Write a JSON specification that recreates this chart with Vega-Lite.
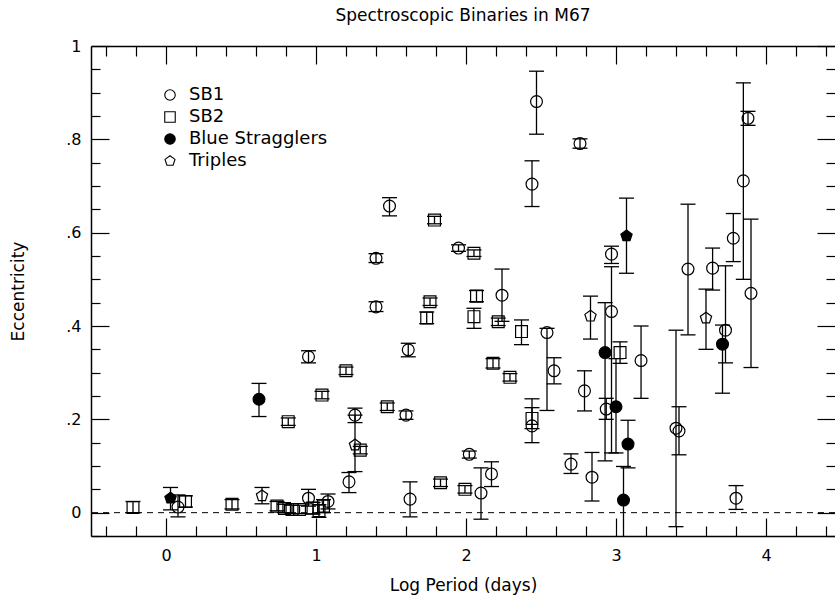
{
  "$schema": "https://vega.github.io/schema/vega-lite/v6.json",
  "width": 744,
  "height": 490,
  "autosize": "none",
  "padding": {"left": 91, "top": 46, "right": 0, "bottom": 66},
  "background": "white",
  "title": {"text": "Spectroscopic Binaries in M67", "font": "DejaVu Sans", "fontSize": 17, "fontWeight": "normal", "color": "black", "offset": 13},
  "config": {
    "view": {"stroke": null},
    "axis": {"grid": false, "domainColor": "black", "domainWidth": 1.5, "tickColor": "black", "tickWidth": 1.2, "labelColor": "black", "titleColor": "black", "labelFont": "DejaVu Sans", "titleFont": "DejaVu Sans", "titleFontWeight": "normal", "labelFontSize": 16, "titleFontSize": 17, "labelFlush": false, "labelOverlap": false},
    "legend": {"orient": "none", "legendX": 70, "legendY": 40, "title": null, "labelFont": "DejaVu Sans", "labelFontSize": 18, "labelColor": "black", "labelLimit": 0, "symbolSize": 110, "symbolStrokeWidth": 1.1, "rowPadding": 4, "labelOffset": 10, "padding": 0}
  },
  "data": {"values": [
    {"p":-0.22,"e":0.011,"lo":0.0,"hi":0.024,"t":"SB2"},
    {"p":0.03,"e":0.031,"lo":0.006,"hi":0.054,"t":"BS Triple"},
    {"p":0.08,"e":0.012,"lo":-0.009,"hi":0.038,"t":"SB1"},
    {"p":0.13,"e":0.024,"lo":0.012,"hi":0.036,"t":"SB2"},
    {"p":0.44,"e":0.018,"lo":0.008,"hi":0.028,"t":"SB2"},
    {"p":0.62,"e":0.243,"lo":0.206,"hi":0.277,"t":"Blue Stragglers"},
    {"p":0.64,"e":0.036,"lo":0.019,"hi":0.054,"t":"Triples"},
    {"p":0.74,"e":0.014,"lo":0.004,"hi":0.024,"t":"SB2"},
    {"p":0.79,"e":0.009,"lo":0.0,"hi":0.018,"t":"SB2"},
    {"p":0.84,"e":0.007,"lo":-0.002,"hi":0.016,"t":"SB2"},
    {"p":0.89,"e":0.007,"lo":-0.002,"hi":0.016,"t":"SB2"},
    {"p":0.95,"e":0.031,"lo":0.014,"hi":0.05,"t":"SB1"},
    {"p":0.98,"e":0.01,"lo":-0.003,"hi":0.022,"t":"SB2"},
    {"p":1.02,"e":0.004,"lo":-0.01,"hi":0.017,"t":"SB2"},
    {"p":1.05,"e":0.014,"lo":0.0,"hi":0.028,"t":"SB2"},
    {"p":1.08,"e":0.024,"lo":0.008,"hi":0.04,"t":"SB1"},
    {"p":0.815,"e":0.195,"lo":0.187,"hi":0.203,"t":"SB2"},
    {"p":1.04,"e":0.252,"lo":0.244,"hi":0.26,"t":"SB2"},
    {"p":0.95,"e":0.334,"lo":0.321,"hi":0.347,"t":"SB1"},
    {"p":1.2,"e":0.304,"lo":0.296,"hi":0.312,"t":"SB2"},
    {"p":1.22,"e":0.066,"lo":0.043,"hi":0.086,"t":"SB1"},
    {"p":1.26,"e":0.209,"lo":0.193,"hi":0.224,"t":"SB1"},
    {"p":1.26,"e":0.145,"lo":0.088,"hi":0.209,"t":"Triples"},
    {"p":1.295,"e":0.134,"lo":0.126,"hi":0.142,"t":"SB2"},
    {"p":1.4,"e":0.441,"lo":0.431,"hi":0.452,"t":"SB1"},
    {"p":1.4,"e":0.545,"lo":0.536,"hi":0.555,"t":"SB1"},
    {"p":1.49,"e":0.657,"lo":0.636,"hi":0.675,"t":"SB1"},
    {"p":1.475,"e":0.227,"lo":0.219,"hi":0.235,"t":"SB2"},
    {"p":1.615,"e":0.349,"lo":0.334,"hi":0.363,"t":"SB1"},
    {"p":1.6,"e":0.209,"lo":0.2,"hi":0.218,"t":"SB1"},
    {"p":1.627,"e":0.029,"lo":-0.009,"hi":0.066,"t":"SB1"},
    {"p":1.738,"e":0.417,"lo":0.405,"hi":0.43,"t":"SB2"},
    {"p":1.76,"e":0.452,"lo":0.444,"hi":0.46,"t":"SB2"},
    {"p":1.79,"e":0.627,"lo":0.619,"hi":0.635,"t":"SB2"},
    {"p":1.83,"e":0.064,"lo":0.056,"hi":0.072,"t":"SB2"},
    {"p":1.95,"e":0.567,"lo":0.56,"hi":0.574,"t":"SB1"},
    {"p":1.993,"e":0.05,"lo":0.042,"hi":0.058,"t":"SB2"},
    {"p":2.022,"e":0.125,"lo":0.117,"hi":0.132,"t":"SB1"},
    {"p":2.053,"e":0.556,"lo":0.549,"hi":0.563,"t":"SB2"},
    {"p":2.053,"e":0.42,"lo":0.395,"hi":0.438,"t":"SB2"},
    {"p":2.07,"e":0.464,"lo":0.452,"hi":0.476,"t":"SB2"},
    {"p":2.1,"e":0.042,"lo":-0.014,"hi":0.096,"t":"SB1"},
    {"p":2.17,"e":0.083,"lo":0.056,"hi":0.109,"t":"SB1"},
    {"p":2.18,"e":0.32,"lo":0.31,"hi":0.33,"t":"SB2"},
    {"p":2.215,"e":0.409,"lo":0.401,"hi":0.417,"t":"SB2"},
    {"p":2.24,"e":0.466,"lo":0.41,"hi":0.522,"t":"SB1"},
    {"p":2.293,"e":0.29,"lo":0.282,"hi":0.298,"t":"SB2"},
    {"p":2.37,"e":0.388,"lo":0.36,"hi":0.413,"t":"SB2"},
    {"p":2.44,"e":0.202,"lo":0.18,"hi":0.225,"t":"SB2"},
    {"p":2.44,"e":0.186,"lo":0.15,"hi":0.244,"t":"SB1"},
    {"p":2.44,"e":0.704,"lo":0.656,"hi":0.754,"t":"SB1"},
    {"p":2.47,"e":0.881,"lo":0.811,"hi":0.946,"t":"SB1"},
    {"p":2.54,"e":0.386,"lo":0.219,"hi":0.395,"t":"SB1"},
    {"p":2.587,"e":0.304,"lo":0.276,"hi":0.332,"t":"SB1"},
    {"p":2.7,"e":0.104,"lo":0.084,"hi":0.126,"t":"SB1"},
    {"p":2.76,"e":0.791,"lo":0.781,"hi":0.801,"t":"SB1"},
    {"p":2.79,"e":0.261,"lo":0.218,"hi":0.304,"t":"SB1"},
    {"p":2.83,"e":0.421,"lo":0.372,"hi":0.464,"t":"Triples"},
    {"p":2.84,"e":0.076,"lo":0.025,"hi":0.129,"t":"SB1"},
    {"p":2.927,"e":0.343,"lo":0.111,"hi":0.45,"t":"Blue Stragglers"},
    {"p":2.935,"e":0.222,"lo":0.2,"hi":0.245,"t":"SB1"},
    {"p":2.97,"e":0.431,"lo":0.128,"hi":0.527,"t":"SB1"},
    {"p":2.97,"e":0.554,"lo":0.534,"hi":0.571,"t":"SB1"},
    {"p":3.0,"e":0.227,"lo":0.128,"hi":0.33,"t":"Blue Stragglers"},
    {"p":3.027,"e":0.343,"lo":0.32,"hi":0.366,"t":"SB2"},
    {"p":3.07,"e":0.593,"lo":0.513,"hi":0.674,"t":"BS Triple"},
    {"p":3.08,"e":0.147,"lo":0.096,"hi":0.198,"t":"Blue Stragglers"},
    {"p":3.05,"e":0.027,"lo":-0.06,"hi":0.099,"t":"Blue Stragglers"},
    {"p":3.167,"e":0.326,"lo":0.245,"hi":0.4,"t":"SB1"},
    {"p":3.4,"e":0.181,"lo":-0.03,"hi":0.391,"t":"SB1"},
    {"p":3.42,"e":0.175,"lo":0.124,"hi":0.227,"t":"SB1"},
    {"p":3.48,"e":0.522,"lo":0.381,"hi":0.661,"t":"SB1"},
    {"p":3.6,"e":0.417,"lo":0.35,"hi":0.479,"t":"Triples"},
    {"p":3.644,"e":0.524,"lo":0.477,"hi":0.567,"t":"SB1"},
    {"p":3.71,"e":0.361,"lo":0.256,"hi":0.402,"t":"Blue Stragglers"},
    {"p":3.73,"e":0.391,"lo":0.321,"hi":0.529,"t":"SB1"},
    {"p":3.782,"e":0.588,"lo":0.538,"hi":0.641,"t":"SB1"},
    {"p":3.8,"e":0.031,"lo":0.007,"hi":0.058,"t":"SB1"},
    {"p":3.849,"e":0.711,"lo":0.5,"hi":0.921,"t":"SB1"},
    {"p":3.88,"e":0.845,"lo":0.83,"hi":0.86,"t":"SB1"},
    {"p":3.9,"e":0.47,"lo":0.311,"hi":0.629,"t":"SB1"}
  ]},
  "resolve": {"axis": {"x": "independent", "y": "independent"}},
  "layer": [
    {
      "mark": {"type": "rule", "color": "black", "strokeWidth": 1.3, "clip": true},
      "encoding": {
        "x": {"field": "p", "type": "quantitative", "scale": {"domain": [-0.5, 4.46], "nice": false, "zero": false},
              "axis": {"orient": "bottom", "values": [0, 1, 2, 3, 4], "format": "d", "tickSize": -18, "labelPadding": 29, "title": "Log Period (days)", "titlePadding": 14}},
        "y": {"field": "lo", "type": "quantitative", "scale": {"domain": [-0.05, 1], "nice": false, "zero": false},
              "axis": {"orient": "left", "values": [0, 0.2, 0.4, 0.6, 0.8, 1], "labelExpr": "datum.value == 0 ? '0' : datum.value == 1 ? '1' : replace(format(datum.value, '.1f'), '0.', '.')", "tickSize": -18, "labelPadding": 28, "title": "Eccentricity", "titlePadding": 38}},
        "y2": {"field": "hi"}
      }
    },
    {
      "mark": {"type": "tick", "orient": "horizontal", "size": 15, "thickness": 1.3, "color": "black", "opacity": 1, "clip": true},
      "encoding": {
        "x": {"field": "p", "type": "quantitative", "scale": {"domain": [-0.5, 4.46], "nice": false, "zero": false},
              "axis": {"orient": "bottom", "values": [-0.4, -0.2, 0.2, 0.4, 0.6, 0.8, 1.2, 1.4, 1.6, 1.8, 2.2, 2.4, 2.6, 2.8, 3.2, 3.4, 3.6, 3.8, 4.2, 4.4], "tickSize": -10, "labels": false, "domain": false, "title": null}},
        "y": {"field": "lo", "type": "quantitative", "scale": {"domain": [-0.05, 1], "nice": false, "zero": false},
              "axis": {"orient": "left", "values": [-0.05, 0.05, 0.1, 0.15, 0.25, 0.3, 0.35, 0.45, 0.5, 0.55, 0.65, 0.7, 0.75, 0.85, 0.9, 0.95], "tickSize": -9, "labels": false, "domain": false, "title": null}}
      }
    },
    {
      "mark": {"type": "tick", "orient": "horizontal", "size": 15, "thickness": 1.3, "color": "black", "opacity": 1, "clip": true},
      "encoding": {
        "x": {"field": "p", "type": "quantitative", "scale": {"domain": [-0.5, 4.46], "nice": false, "zero": false},
              "axis": {"orient": "top", "values": [0, 1, 2, 3, 4], "tickSize": -18, "labels": false, "domain": true, "title": null}},
        "y": {"field": "hi", "type": "quantitative", "scale": {"domain": [-0.05, 1], "nice": false, "zero": false},
              "axis": {"orient": "right", "values": [0, 0.2, 0.4, 0.6, 0.8, 1], "tickSize": -18, "labels": false, "domain": false, "title": null}}
      }
    },
    {
      "data": {"values": [{"zero": 0}]},
      "mark": {"type": "rule", "color": "black", "strokeWidth": 1, "strokeDash": [6, 5]},
      "encoding": {
        "y": {"field": "zero", "type": "quantitative", "axis": null}
      }
    },
    {
      "mark": {"type": "point", "strokeWidth": 1.2, "opacity": 1, "size": 140},
      "encoding": {
        "x": {"field": "p", "type": "quantitative", "scale": {"domain": [-0.5, 4.46], "nice": false, "zero": false},
              "axis": {"orient": "top", "values": [-0.4, -0.2, 0.2, 0.4, 0.6, 0.8, 1.2, 1.4, 1.6, 1.8, 2.2, 2.4, 2.6, 2.8, 3.2, 3.4, 3.6, 3.8, 4.2, 4.4], "tickSize": -10, "labels": false, "domain": false, "title": null}},
        "y": {"field": "e", "type": "quantitative", "scale": {"domain": [-0.05, 1], "nice": false, "zero": false},
              "axis": {"orient": "right", "values": [-0.05, 0.05, 0.1, 0.15, 0.25, 0.3, 0.35, 0.45, 0.5, 0.55, 0.65, 0.7, 0.75, 0.85, 0.9, 0.95], "tickSize": -9, "labels": false, "domain": false, "title": null}},
        "shape": {"field": "t", "type": "nominal",
                  "scale": {"domain": ["SB1", "SB2", "Blue Stragglers", "Triples", "BS Triple"], "range": ["circle", "square", "circle", "M0,-1L0.951,-0.309L0.588,0.809L-0.588,0.809L-0.951,-0.309Z", "M0,-1L0.951,-0.309L0.588,0.809L-0.588,0.809L-0.951,-0.309Z"]},
                  "legend": {"values": ["SB1", "SB2", "Blue Stragglers", "Triples"]}},
        "fill": {"field": "t", "type": "nominal",
                 "scale": {"domain": ["SB1", "SB2", "Blue Stragglers", "Triples", "BS Triple"], "range": ["transparent", "transparent", "black", "transparent", "black"]},
                 "legend": {"values": ["SB1", "SB2", "Blue Stragglers", "Triples"]}},
        "stroke": {"field": "t", "type": "nominal",
                   "scale": {"domain": ["SB1", "SB2", "Blue Stragglers", "Triples", "BS Triple"], "range": ["black", "black", "black", "black", "black"]},
                   "legend": {"values": ["SB1", "SB2", "Blue Stragglers", "Triples"]}}
      }
    }
  ]
}
